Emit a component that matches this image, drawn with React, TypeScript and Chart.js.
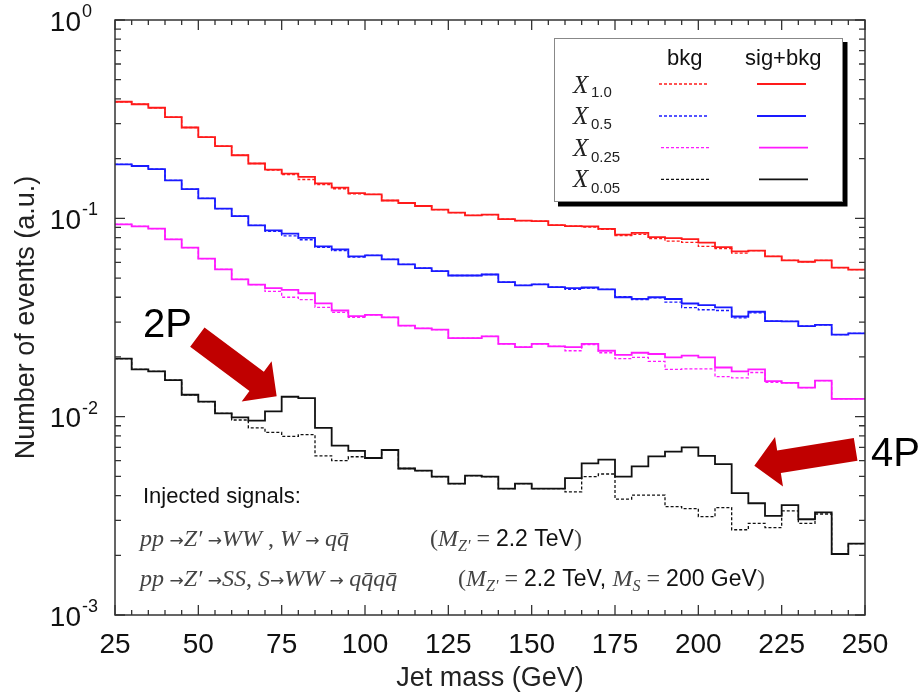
import React, { useEffect, useRef } from "react";
import { Chart, registerables } from "chart.js";

Chart.register(...registerables);

// ---------------- data ----------------
const BIN_EDGES = [
  25, 30, 35, 40, 45, 50, 55, 60, 65, 70, 75, 80, 85, 90, 95, 100, 105, 110, 115, 120, 125, 130, 135,
  140, 145, 150, 155, 160, 165, 170, 175, 180, 185, 190, 195, 200, 205, 210, 215, 220, 225, 230, 235,
  240, 245, 250,
];
const X_TICKS = [25, 50, 75, 100, 125, 150, 175, 200, 225, 250];
const Y_DECADES = [0.001, 0.01, 0.1, 1];
const Y_TICK_EXPONENTS = ["-3", "-2", "-1", "0"];
const Y_MINOR_MULTIPLIERS = [2, 3, 4, 5, 6, 7, 8, 9];

const RED_SIG = [
  0.387, 0.376, 0.361, 0.324, 0.287, 0.257, 0.231, 0.208, 0.189, 0.176,
  0.168, 0.162, 0.15, 0.143, 0.134, 0.132, 0.123, 0.1195, 0.1154, 0.1106,
  0.1069, 0.1035, 0.1044, 0.0992, 0.0974, 0.0969, 0.0925, 0.0914, 0.0911, 0.0885,
  0.0827, 0.0845, 0.0804, 0.0794, 0.0786, 0.0754, 0.0716, 0.0681, 0.0687, 0.0643,
  0.0614, 0.0604, 0.0614, 0.0564, 0.0551,
];
const RED_BKG = [
  0.387, 0.376, 0.361, 0.324, 0.287, 0.257, 0.231, 0.208, 0.189, 0.175,
  0.166, 0.157, 0.148, 0.141, 0.133, 0.132, 0.123, 0.1195, 0.1154, 0.1106,
  0.1069, 0.1035, 0.1044, 0.0992, 0.0974, 0.0969, 0.0925, 0.0914, 0.0904, 0.088,
  0.0818, 0.083, 0.079, 0.0768, 0.0756, 0.0722, 0.0703, 0.0668, 0.0687, 0.0643,
  0.0614, 0.0604, 0.0614, 0.0564, 0.0551,
];
const BLUE_SIG = [
  0.187, 0.1836, 0.177, 0.1555, 0.1405, 0.1262, 0.1119, 0.1027, 0.0922, 0.087,
  0.0837, 0.0797, 0.0722, 0.0697, 0.0643, 0.065, 0.0621, 0.0586, 0.0561, 0.0542,
  0.0515, 0.0515, 0.0521, 0.0477, 0.0459, 0.0464, 0.045, 0.0445, 0.0448, 0.0438,
  0.04, 0.0393, 0.04, 0.0392, 0.0372, 0.0365, 0.0356, 0.032, 0.0338, 0.0303,
  0.0302, 0.0286, 0.029, 0.0259, 0.0263,
];
const BLUE_BKG = [
  0.187, 0.1836, 0.177, 0.1555, 0.1405, 0.1262, 0.1119, 0.1027, 0.0922, 0.086,
  0.0816, 0.078, 0.0714, 0.0687, 0.0638, 0.065, 0.0621, 0.0586, 0.0561, 0.0542,
  0.0515, 0.0515, 0.0521, 0.0477, 0.0459, 0.0464, 0.045, 0.0439, 0.0445, 0.0438,
  0.0403, 0.0389, 0.0397, 0.0378, 0.0355, 0.0346, 0.0343, 0.0315, 0.0334, 0.0303,
  0.0302, 0.0286, 0.029, 0.0259, 0.0263,
];
const MAG_SIG = [
  0.0932, 0.0911, 0.0887, 0.0783, 0.0711, 0.0626, 0.0553, 0.0492, 0.0463, 0.0445,
  0.0436, 0.0419, 0.0373, 0.0343, 0.0321, 0.0326, 0.0317, 0.0288, 0.0279, 0.0275,
  0.0249, 0.0249, 0.0254, 0.0233, 0.0224, 0.0233, 0.0226, 0.0224, 0.0233, 0.0215,
  0.0205, 0.021, 0.0207, 0.0199, 0.0203, 0.0199, 0.0177, 0.0169, 0.0173, 0.0151,
  0.0148, 0.014, 0.0152, 0.0123, 0.0123,
];
const MAG_BKG = [
  0.0932, 0.0911, 0.0887, 0.0783, 0.0711, 0.0626, 0.0553, 0.0492, 0.0463, 0.0428,
  0.04, 0.0389, 0.0356, 0.0336, 0.0317, 0.0326, 0.0317, 0.0288, 0.0279, 0.0275,
  0.0249, 0.0249, 0.0254, 0.0233, 0.0224, 0.0233, 0.0226, 0.0215, 0.0231, 0.021,
  0.0196, 0.0199, 0.019, 0.0173, 0.0174, 0.0174, 0.0159, 0.0157, 0.0167, 0.0149,
  0.0148, 0.014, 0.0152, 0.0123, 0.0123,
];
const BLACK_SIG = [
  0.0196, 0.0173, 0.0169, 0.0153, 0.0129, 0.0119, 0.0104, 0.00992, 0.00955, 0.01063,
  0.0126, 0.0124, 0.00877, 0.00714, 0.00673, 0.00619, 0.00679, 0.00548, 0.00534, 0.00499,
  0.0046, 0.00504, 0.00499, 0.00434, 0.0046, 0.00434, 0.00434, 0.0049, 0.00581, 0.00607,
  0.00499, 0.00561, 0.0063, 0.00666, 0.007, 0.00635, 0.00577, 0.00412, 0.00366, 0.00316,
  0.00358, 0.00304, 0.00329, 0.00203, 0.00229,
];
const BLACK_BKG = [
  0.0196, 0.0173, 0.0169, 0.0153, 0.0129, 0.0119, 0.0104, 0.00962, 0.00877, 0.00833,
  0.00795, 0.00811, 0.00635, 0.006, 0.00628, 0.00619, 0.00679, 0.00548, 0.00534, 0.00499,
  0.0046, 0.00504, 0.00499, 0.00434, 0.0046, 0.00434, 0.00434, 0.00418, 0.00499, 0.00514,
  0.00384, 0.00402, 0.00402, 0.00352, 0.00344, 0.00313, 0.00348, 0.00269, 0.0029, 0.00276,
  0.00335, 0.0029, 0.00323, 0.00203, 0.00229,
];

const SERIES_LABELS = ["1.0", "0.5", "0.25", "0.05"];
const SERIES_COLORS = ["#ff1a1a", "#1a1aff", "#ff1aff", "#111111"];
const SIG_SERIES = [RED_SIG, BLUE_SIG, MAG_SIG, BLACK_SIG];
const BKG_SERIES = [RED_BKG, BLUE_BKG, MAG_BKG, BLACK_BKG];

// arrows in data coordinates: [x (GeV), y]
const ARROW_2P = { from: [49.7, 0.0252], to: [73.5, 0.01266] };
const ARROW_4P = { from: [247.2, 0.00684], to: [216.8, 0.005657] };

// ---------------- styling ----------------
const SANS = '"Liberation Sans", Arial, Helvetica, sans-serif';
const SERIF = '"Liberation Serif", "Times New Roman", serif';
const MI = `italic 24px ${SERIF}`;
const MR = `24px ${SERIF}`;
const MSUB = `italic 16px ${SERIF}`;
const ARR = `17px "DejaVu Sans", sans-serif`;
const TX = `22px ${SANS}`;
const TX2 = `23px ${SANS}`;
const MATH_COLOR = "#444";
const TEXT_COLOR = "#111";

function toSteps(vals: number[]) {
  const pts = vals.map((v, i) => ({ x: BIN_EDGES[i], y: v }));
  pts.push({ x: BIN_EDGES[vals.length], y: vals[vals.length - 1] });
  return pts;
}

type Run = { t: string; f: string; dy?: number; c?: string };
function drawRuns(ctx: CanvasRenderingContext2D, x: number, y: number, runs: Run[]) {
  let cx = x;
  for (const r of runs) {
    ctx.font = r.f;
    ctx.fillStyle = r.c || MATH_COLOR;
    ctx.fillText(r.t, cx, y + (r.dy || 0));
    cx += ctx.measureText(r.t).width;
  }
  return cx;
}

function drawArrow(
  ctx: CanvasRenderingContext2D,
  tx: number, ty: number, hx: number, hy: number,
  shaftW: number, headW: number, headL: number
) {
  const dx = hx - tx, dy = hy - ty;
  const L = Math.hypot(dx, dy);
  const ux = dx / L, uy = dy / L;
  const nx = -uy, ny = ux;
  const bx = hx - ux * headL, by = hy - uy * headL;
  ctx.beginPath();
  ctx.moveTo(tx + (nx * shaftW) / 2, ty + (ny * shaftW) / 2);
  ctx.lineTo(bx + (nx * shaftW) / 2, by + (ny * shaftW) / 2);
  ctx.lineTo(bx + (nx * headW) / 2, by + (ny * headW) / 2);
  ctx.lineTo(hx, hy);
  ctx.lineTo(bx - (nx * headW) / 2, by - (ny * headW) / 2);
  ctx.lineTo(bx - (nx * shaftW) / 2, by - (ny * shaftW) / 2);
  ctx.lineTo(tx - (nx * shaftW) / 2, ty - (ny * shaftW) / 2);
  ctx.closePath();
  ctx.fill();
}

const overlayPlugin = {
  id: "overlay",
  afterDraw(chart: any) {
    const ctx: CanvasRenderingContext2D = chart.ctx;
    const { left, right, top, bottom } = chart.chartArea;
    const xs = chart.scales.x;
    const ys = chart.scales.y;
    ctx.save();

    // frame
    ctx.strokeStyle = "#333";
    ctx.lineWidth = 1.5;
    ctx.strokeRect(left, top, right - left, bottom - top);

    // x ticks (inward, bottom and top)
    ctx.lineWidth = 1.3;
    for (const v of BIN_EDGES) {
      const px = xs.getPixelForValue(v);
      const len = X_TICKS.includes(v) ? 10 : 5;
      ctx.beginPath();
      ctx.moveTo(px, bottom);
      ctx.lineTo(px, bottom - len);
      ctx.moveTo(px, top);
      ctx.lineTo(px, top + len);
      ctx.stroke();
    }
    // y ticks (inward, left and right)
    const yTickVals: { v: number; major: boolean }[] = [];
    Y_DECADES.forEach((d, i) => {
      yTickVals.push({ v: d, major: true });
      if (i < Y_DECADES.length - 1) {
        for (const m of Y_MINOR_MULTIPLIERS) yTickVals.push({ v: d * m, major: false });
      }
    });
    for (const t of yTickVals) {
      const py = ys.getPixelForValue(t.v);
      const len = t.major ? 10 : 6;
      ctx.beginPath();
      ctx.moveTo(left, py);
      ctx.lineTo(left + len, py);
      ctx.moveTo(right, py);
      ctx.lineTo(right - len, py);
      ctx.stroke();
    }

    // y tick labels 10^n
    ctx.fillStyle = TEXT_COLOR;
    Y_DECADES.forEach((d, i) => {
      const py = ys.getPixelForValue(d);
      ctx.textBaseline = "middle";
      ctx.textAlign = "right";
      ctx.font = `28px ${SANS}`;
      ctx.fillText("10", 81, py + 3);
      ctx.textAlign = "left";
      ctx.font = `18px ${SANS}`;
      ctx.fillText(Y_TICK_EXPONENTS[i], 82, py - 8);
    });

    // legend
    ctx.textAlign = "left";
    ctx.textBaseline = "alphabetic";
    ctx.fillStyle = "#000";
    ctx.fillRect(558, 42, 289.5, 164.5);
    ctx.fillStyle = "#fff";
    ctx.fillRect(554, 38, 289, 164);
    ctx.strokeStyle = "#888";
    ctx.lineWidth = 1;
    ctx.strokeRect(554.5, 38.5, 288, 163);
    ctx.fillStyle = TEXT_COLOR;
    ctx.font = TX;
    ctx.fillText("bkg", 667, 65);
    ctx.fillText("sig+bkg", 745, 65);
    const rowLine = [84, 116, 147.7, 179.3];
    const rowX = [92.7, 124, 155.7, 186.7];
    const rowSub = [97.3, 129.3, 161.7, 193.3];
    const rowShift = [0, 0, 2, 2];
    SERIES_LABELS.forEach((lab, i) => {
      ctx.font = `italic 25px ${SERIF}`;
      ctx.fillStyle = "#222";
      ctx.fillText("X", 573, rowX[i]);
      ctx.font = `15px ${SANS}`;
      ctx.fillText(lab, 591, rowSub[i]);
      ctx.strokeStyle = SERIES_COLORS[i];
      ctx.lineWidth = 1.3;
      ctx.setLineDash([3, 2]);
      ctx.beginPath();
      ctx.moveTo(659 + rowShift[i], rowLine[i]);
      ctx.lineTo(709 + rowShift[i], rowLine[i]);
      ctx.stroke();
      ctx.setLineDash([]);
      ctx.lineWidth = 1.8;
      ctx.beginPath();
      ctx.moveTo(757 + rowShift[i], rowLine[i]);
      ctx.lineTo(806 + rowShift[i], rowLine[i]);
      ctx.stroke();
    });

    // injected-signal annotations
    ctx.fillStyle = TEXT_COLOR;
    ctx.font = TX;
    ctx.fillText("Injected signals:", 143, 503);

    drawRuns(ctx, 140, 546, [
      { t: "pp", f: MI },
      { t: " \u2192", f: ARR },
      { t: "Z\u2032", f: MI },
      { t: " \u2192", f: ARR },
      { t: "WW", f: MI },
      { t: " , ", f: MR },
      { t: "W", f: MI },
      { t: " \u2192 ", f: ARR },
      { t: "q", f: MI },
      { t: "q\u0304", f: MI },
    ]);
    drawRuns(ctx, 430, 546, [
      { t: "(", f: MR },
      { t: "M", f: MI },
      { t: "Z\u2032", f: MSUB, dy: 5 },
      { t: " = ", f: MR },
      { t: "2.2 TeV", f: TX2, c: TEXT_COLOR },
      { t: ")", f: MR },
    ]);

    drawRuns(ctx, 140, 586, [
      { t: "pp", f: MI },
      { t: " \u2192", f: ARR },
      { t: "Z\u2032", f: MI },
      { t: " \u2192", f: ARR },
      { t: "SS", f: MI },
      { t: ", ", f: MR },
      { t: "S", f: MI },
      { t: "\u2192", f: ARR },
      { t: "WW", f: MI },
      { t: " \u2192 ", f: ARR },
      { t: "q", f: MI },
      { t: "q\u0304", f: MI },
      { t: "q", f: MI },
      { t: "q\u0304", f: MI },
    ]);
    drawRuns(ctx, 458, 586, [
      { t: "(", f: MR },
      { t: "M", f: MI },
      { t: "Z\u2032", f: MSUB, dy: 5 },
      { t: " = ", f: MR },
      { t: "2.2 TeV, ", f: TX2, c: TEXT_COLOR },
      { t: "M", f: MI },
      { t: "S", f: MSUB, dy: 5 },
      { t: " = ", f: MR },
      { t: "200 GeV", f: TX2, c: TEXT_COLOR },
      { t: ")", f: MR },
    ]);

    // arrows
    ctx.fillStyle = "#c00000";
    const a2 = ARROW_2P;
    drawArrow(
      ctx,
      xs.getPixelForValue(a2.from[0]), ys.getPixelForValue(a2.from[1]),
      xs.getPixelForValue(a2.to[0]), ys.getPixelForValue(a2.to[1]),
      24, 50, 25
    );
    const a4 = ARROW_4P;
    drawArrow(
      ctx,
      xs.getPixelForValue(a4.from[0]), ys.getPixelForValue(a4.from[1]),
      xs.getPixelForValue(a4.to[0]), ys.getPixelForValue(a4.to[1]),
      23, 50, 25
    );

    ctx.fillStyle = "#000";
    ctx.font = `40px ${SANS}`;
    ctx.fillText("2P", 143, 337);
    ctx.fillText("4P", 871, 466);

    ctx.restore();
  },
};

export default function App() {
  const canvasRef = useRef<HTMLCanvasElement | null>(null);

  useEffect(() => {
    const canvas = canvasRef.current;
    if (!canvas) return;

    const datasets: any[] = [];
    SIG_SERIES.forEach((vals, i) => {
      datasets.push({
        label: `X${SERIES_LABELS[i]} sig+bkg`,
        data: toSteps(vals),
        borderColor: SERIES_COLORS[i],
        borderWidth: 1.8,
        stepped: "before",
        pointRadius: 0,
        fill: false,
      });
    });
    BKG_SERIES.forEach((vals, i) => {
      datasets.push({
        label: `X${SERIES_LABELS[i]} bkg`,
        data: toSteps(vals),
        borderColor: SERIES_COLORS[i],
        borderWidth: 1.3,
        borderDash: [3, 2],
        stepped: "before",
        pointRadius: 0,
        fill: false,
      });
    });

    const chart = new Chart(canvas, {
      type: "line",
      data: { datasets },
      options: {
        animation: false,
        responsive: false,
        devicePixelRatio: 1,
        layout: { padding: { left: 0, right: 57, top: 20, bottom: 0 } },
        plugins: { legend: { display: false }, tooltip: { enabled: false } },
        elements: { point: { radius: 0 }, line: { tension: 0 } },
        scales: {
          x: {
            type: "linear",
            min: 25,
            max: 250,
            grid: { display: false },
            border: { display: false },
            ticks: {
              stepSize: 25,
              autoSkip: false,
              maxRotation: 0,
              padding: 5,
              color: TEXT_COLOR,
              font: { family: SANS, size: 28 },
            },
            title: {
              display: true,
              text: "Jet mass (GeV)",
              color: "#222",
              font: { family: SANS, size: 27 },
              padding: { top: 0, bottom: 0 },
            },
            afterFit: (s: any) => {
              s.height = 80;
            },
          },
          y: {
            type: "logarithmic",
            min: 0.001,
            max: 1,
            grid: { display: false },
            border: { display: false },
            ticks: { display: false },
            title: {
              display: true,
              text: "Number of events (a.u.)",
              color: "#222",
              font: { family: SANS, size: 27 },
              padding: { top: 10, bottom: 0 },
            },
            afterFit: (s: any) => {
              s.width = 115;
            },
          },
        },
      } as any,
      plugins: [overlayPlugin],
    });

    return () => chart.destroy();
  }, []);

  return (
    <div style={{ position: "absolute", left: 0, top: 0, width: 922, height: 695, background: "#fff" }}>
      <canvas ref={canvasRef} width={922} height={695} style={{ display: "block" }} />
    </div>
  );
}
